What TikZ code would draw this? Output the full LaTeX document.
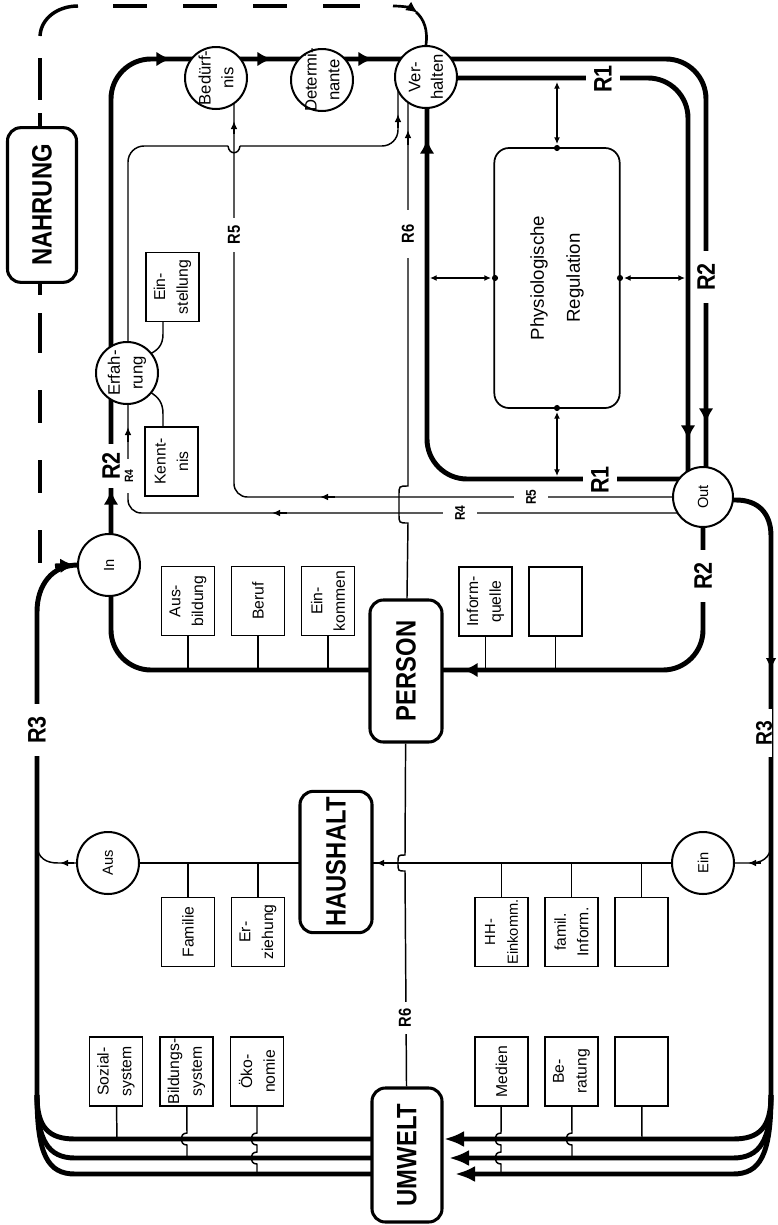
\documentclass[tikz,border=0pt]{standalone}
\usepackage{fontspec}
\setmainfont{Liberation Sans}
\newfontfamily\bigf[FakeStretch=0.85]{Liberation Sans}
\usetikzlibrary{arrows.meta}
\pgfdeclarelayer{background}
\pgfsetlayers{background,main}
\tikzset{
 thk/.style={line width=3.7pt},
 thn/.style={line width=1.1pt},
 dsh/.style={line width=2.6pt},
 bigtip/.style={-{Latex[length=11pt,width=11pt]}},
 midtip/.style={-{Latex[length=9pt,width=8pt]}},
 hugetip/.style={-{Latex[length=15pt,width=12pt]}},
 smtip/.style={-{Latex[length=6pt,width=5pt]}},
 dtip/.style={{Latex[length=5pt,width=4.5pt]}-{Latex[length=5pt,width=4.5pt]},shorten <=1.5pt,shorten >=3pt},
 circ/.style={circle,draw,line width=1.5pt,fill=white,minimum size=46.5pt,inner sep=0pt},
 ctext/.style={rotate=90,align=center,inner sep=0pt,font=\fontsize{12.5pt}{17pt}\selectfont},
 cword/.style={rotate=90,inner sep=0pt,font=\fontsize{11pt}{12pt}\selectfont},
 sbox/.style={draw,line width=1.1pt,fill=white,rotate=90,minimum width=52pt,minimum height=39.75pt,inner sep=0.3pt,align=center,font=\fontsize{11.8pt}{17pt}\selectfont},
 bbox/.style={draw,line width=2.3pt,fill=white,rounded corners=10pt,rotate=90,inner sep=0pt,font=\bigf\bfseries\fontsize{21pt}{24pt}\selectfont},
 lblv/.style={fill=white,rotate=90,inner xsep=9pt,inner ysep=0.5pt,font=\bigf\bfseries\fontsize{19pt}{20pt}\selectfont},
 lblh/.style={fill=white,rotate=90,inner xsep=0.5pt,inner ysep=6pt,font=\bigf\bfseries\fontsize{19pt}{20pt}\selectfont},
 lbls/.style={fill=white,rotate=90,inner xsep=6pt,inner ysep=0.5pt,font=\bigf\bfseries\fontsize{13pt}{14pt}\selectfont},
 lblsh/.style={fill=white,rotate=90,inner xsep=0.5pt,inner ysep=9pt,font=\bigf\bfseries\fontsize{10.5pt}{12pt}\selectfont},
 lbltiny/.style={fill=white,rotate=90,inner xsep=7.5pt,inner ysep=0.5pt,font=\bigf\bfseries\fontsize{9pt}{10pt}\selectfont},
}
\begin{document}
\begin{tikzpicture}[x=0.75pt,y=-0.75pt]
\useasboundingbox (0,0) rectangle (778,1225);

% ---------- circles ----------
\node[circ] (bed) at (216,78) {};
\node[ctext] (bedt) at (bed) {Bedürf-\\nis};
\node[circ] (det) at (322,80) {};
\node[ctext] (dett) at (det) {Determi-\\nante};
\node[circ] (verh) at (426,77) {};
\node[ctext] (verht) at (verh) {Ver-\\halten};
\node[circ] (erf) at (127,373) {};
\node[ctext] (erft) at (erf) {Erfah-\\rung};
\node[circ] (in) at (109,565) {};
\node[cword] (int) at (in) {In};
\node[circ,minimum size=45pt] (out) at (703,497) {};
\node[cword] (outt) at (out) {Out};
\node[circ] (aus) at (108,863) {};
\node[cword] (aust) at (aus) {Aus};
\node[circ] (ein) at (703,863) {};
\node[cword] (eint) at (ein) {Ein};

% ---------- big boxes ----------
\node[bbox,minimum width=116pt,minimum height=51.75pt] (nahr) at (42,205) {NAHRUNG};
\node[bbox,minimum width=106.5pt,minimum height=54pt] (person) at (406,671) {PERSON};
\node[bbox,minimum width=106pt,minimum height=54pt] (haus) at (336,862) {HAUSHALT};
\node[bbox,minimum width=100.5pt,minimum height=52.5pt] (umw) at (407,1155) {UMWELT};
\node[draw,line width=1.3pt,rounded corners=11pt,fill=white,rotate=90,minimum width=195pt,minimum height=94pt,align=center,font=\fontsize{14pt}{27pt}\selectfont] (phys) at (557,278) {Physiologische\\Regulation};
\foreach \p in {(557,148),(557,408),(495,278),(620,278)}
  \fill \p circle[radius=2.3pt];

% ---------- small boxes ----------
\node[sbox] (einst) at (172.5,287) {Ein-\\stellung};
\node[sbox] (kennt) at (171.5,461.5) {Kennt-\\nis};
\node[sbox] (ausb) at (188,601) {Aus-\\bildung};
\node[sbox] (beruf) at (258,601) {Beruf};
\node[sbox] (eink) at (328,601) {Ein-\\kommen};
\node[sbox] (infq) at (485.5,601.5) {Inform-\\quelle};
\node[sbox] (pemp) at (555.5,601.5) {};
\node[sbox] (fam) at (188,932) {Familie};
\node[sbox] (erz) at (258,932) {Er-\\ziehung};
\node[sbox,inner sep=0pt,font=\fontsize{11pt}{17pt}\selectfont] (hhe) at (501.5,932) {HH-\\Einkomm.};
\node[sbox] (finf) at (571.5,932) {famil.\\Inform.};
\node[sbox] (hemp) at (641.5,932) {};
\node[sbox] (soz) at (116,1071.5) {Sozial-\\system};
\node[sbox] (bild) at (186.5,1071.5) {Bildungs-\\system};
\node[sbox] (oek) at (257,1071.5) {Öko-\\nomie};
\node[sbox] (med) at (501.5,1071.5) {Medien};
\node[sbox] (ber) at (571.5,1071.5) {Be-\\ratung};
\node[sbox] (uemp) at (641.5,1071.5) {};

% ---------- labels ----------
\node[lblv] (l1) at (706,277) {R2};
\node[lblv] (l2) at (703,576) {R2};
\node[lblv,inner xsep=6.5pt] (l3) at (111,466) {R2};
\node[lblv] (l4) at (37,730) {R3};
\node[lblv,inner ysep=0pt,font=\bigf\bfseries\fontsize{17pt}{18pt}\selectfont] (l5) at (764,733) {R3};
\node[lblh] (l6) at (603,79) {R1};
\node[lblh] (l7) at (600,480) {R1};
\node[lbls] (l8) at (234,235) {R5};
\node[lbls,inner xsep=11pt] (l9) at (408,234) {R6};
\node[lbls,inner xsep=5pt] (l10) at (405,1018) {R6};
\node[lblsh] (l11) at (531,497) {R5};
\node[lblsh] (l12) at (460,513) {R4};
\node[lbltiny] (l13) at (129,476) {R4};

\begin{pgfonlayer}{background}
% ---------- dashed NAHRUNG loop ----------
\foreach \a/\b in {323/360,253/287,183/217,113/147}
  \draw[dsh] (\a,6) -- (\b,6);
\draw[dsh] (78,6) .. controls (58,6) and (41,18) .. (40,36);
\foreach \a/\b in {58/100,113/128,283/295,313/353,390/423,460/493,530/563}
  \draw[dsh] (40,\a) -- (40,\b);
\draw[line width=2pt,midtip] (393,6) .. controls (404,6) and (411,8) .. (418,13);
\draw[line width=2pt] (416,12) .. controls (424,19) and (428,30) .. (verh.north);

% ---------- R2 outer loop ----------
\draw[thk,rounded corners=30pt] (111,565) -- (111,59) -- (706,59) -- (706,497);
\draw[thk,bigtip] (150,59) -- (171,59);
\draw[thk,bigtip] (251,59) -- (272,59);
\draw[thk,bigtip] (352,59) -- (373,59);
\draw[thk,bigtip] (706,400) -- (706,423);
\draw[thk,bigtip] (111,512) -- (111,490);

% ---------- R1 loop ----------
\draw[thk,rounded corners=30pt] (426,78) -- (688,78) -- (688,497);
\draw[thk,rounded corners=30pt] (427,77) -- (427,479) -- (703,479);
\draw[thk,bigtip] (688,417) -- (688,440);
\draw[thk,bigtip] (427,160) -- (427,139);

% ---------- physiological regulation links ----------
\draw[thn,dtip] (557,80) -- (557,148);
\draw[thn,dtip] (557,478) -- (557,408);
\draw[thn,dtip] (428,278) -- (495,278);
\draw[thn,dtip] (687,278) -- (620,278);

% ---------- Erfahrung -> Verhalten ----------
\draw[thn,rounded corners=12pt] (128,373) -- (128,146) -- (228,146);
\draw[thn] (228,146) .. controls (229,155) and (239,155) .. (240,146);
\draw[thn,rounded corners=12pt] (240,146) -- (398,146) -- (398,90);
\draw[thn,smtip] (398,128) -- (398,114);

% ---------- R5 ----------
\draw[thn,rounded corners=10pt] (703,497) -- (234,497) -- (234,95);
\draw[thn,smtip] (234,134) -- (234,121);
\draw[thn,smtip] (335,497) -- (320,497);

% ---------- R4 ----------
\draw[thn,rounded corners=10pt] (690,513) -- (128,513) -- (128,380);
\draw[thn,smtip] (287,513) -- (272,513);
\draw[thn,smtip] (128,442) -- (128,427);

% ---------- Erfahrung side boxes ----------
\draw[thn] (163,300) -- (163,334) .. controls (163,345) and (158,350) .. (150,354);
\draw[thn] (163,450) -- (163,414) .. controls (163,402) and (158,397) .. (150,392);

% ---------- R6 ----------
\draw[thn] (408,90) -- (408,486) .. controls (399,486) .. (399,495) -- (399,514) .. controls (399,523) .. (408,523) -- (person);
\draw[thn,smtip] (408,145) -- (408,130);
\draw[thn] (person) -- (405,855) .. controls (398,855) .. (398,863) .. controls (398,871) .. (405,871) -- (umw);

% ---------- PERSON row ----------
\draw[thk,rounded corners=30pt] (111,565) -- (111,670) -- (703,670) -- (703,497);
\draw[thk,bigtip] (484,670) -- (463,670);
\foreach \b in {ausb,beruf,eink,infq,pemp}
  \draw[thn] (\b) -- (\b |- person);

% ---------- HAUSHALT row ----------
\draw[thn] (aus) -- (ein);
\draw[thn,smtip] (392,863) -- (376,863);
\foreach \b in {fam,erz,hhe,finf,hemp}
  \draw[thn] (\b) -- (\b |- aus);

% ---------- R3 left ----------
\draw[thk] (37,1100) -- (37,612) .. controls (37,585) and (52,565) .. (78,565);
\draw[thk,bigtip] (55,566) -- (75,565);
\draw[thn] (37,846) .. controls (38,858) and (46,863) .. (58,863) -- (aus);
\draw[thn,smtip] (74,863) -- (60,863);

% ---------- R3 right ----------
\draw[thk] (703,500) -- (736,500) .. controls (758,500) and (771,513) .. (771,536) -- (771,1100);
\draw[thk,midtip] (771,650) -- (771,670);
\draw[thn] (771,846) .. controls (770,858) and (762,863) .. (750,863) -- (ein);
\draw[thn,smtip] (761,863) -- (748,863);

% ---------- bottom lines to UMWELT ----------
\draw[thk] (37,1095) .. controls (37,1127) and (48,1139) .. (75,1139) -- (umw |- 0,1139);
\draw[thk] (37,1095) .. controls (37,1140) and (48,1158) .. (75,1158) -- (umw |- 0,1158);
\draw[thk] (37,1095) .. controls (37,1155) and (48,1174) .. (75,1174) -- (umw |- 0,1174);
\draw[thk,hugetip] (771,1095) .. controls (771,1127) and (760,1139) .. (733,1139) -- (444,1139);
\draw[thk,hugetip] (771,1095) .. controls (771,1140) and (760,1158) .. (733,1158) -- (449,1158);
\draw[thk,hugetip] (771,1095) .. controls (771,1155) and (760,1174) .. (733,1174) -- (455,1174);

% ---------- bottom stubs ----------
\draw[thn] (soz) -- (117,1139);
\draw[thn] (bild) -- (187,1133) .. controls (179,1133) and (179,1145) .. (187,1145) -- (187,1158);
\draw[thn] (oek) -- (257,1133) .. controls (249,1133) and (249,1145) .. (257,1145) -- (257,1152) .. controls (249,1152) and (249,1164) .. (257,1164) -- (257,1174);
\draw[thn] (med) -- (501,1133) .. controls (493,1133) and (493,1145) .. (501,1145) -- (501,1152) .. controls (493,1152) and (493,1164) .. (501,1164) -- (501,1174);
\draw[thn] (ber) -- (572,1133) .. controls (564,1133) and (564,1145) .. (572,1145) -- (572,1158);
\draw[thn] (uemp) -- (642,1139);
\end{pgfonlayer}
\end{tikzpicture}
\end{document}
